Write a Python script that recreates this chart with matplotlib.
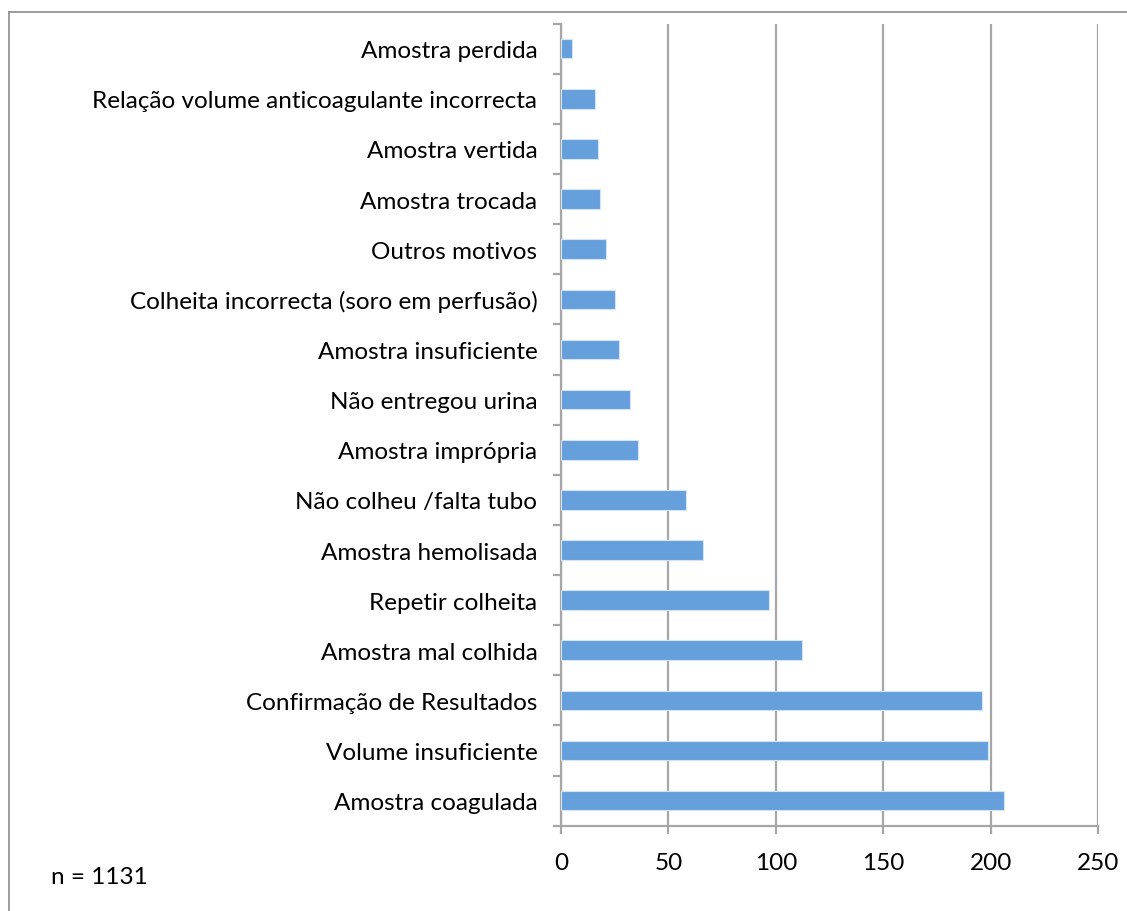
import matplotlib.pyplot as plt
from matplotlib.lines import Line2D

# Motivos de rejeição de amostras (de baixo para cima, como no gráfico)
categories = [
    "Amostra coagulada",
    "Volume insuficiente",
    "Confirmação de Resultados",
    "Amostra mal colhida",
    "Repetir colheita",
    "Amostra hemolisada",
    "Não colheu /falta tubo",
    "Amostra imprópria",
    "Não entregou urina",
    "Amostra insuficiente",
    "Colheita incorrecta (soro em perfusão)",
    "Outros motivos",
    "Amostra trocada",
    "Amostra vertida",
    "Relação volume anticoagulante incorrecta",
    "Amostra perdida",
]
counts = [206, 199, 196, 112, 97, 66, 58, 36, 32, 27, 25, 21, 18, 17, 16, 5]
x_ticks = [0, 50, 100, 150, 200, 250]
total_label = "n = 1131"

plt.rcParams["font.family"] = ["Lato", "DejaVu Sans"]
grey = "#a6a6a6"
fsize = 17.5

fig = plt.figure(figsize=(11.27, 9.12), dpi=100)
ax = fig.add_axes([0.4978, 0.0935, 0.4765, 0.8795])

y = range(len(categories))
ax.barh(y, counts, height=0.39, color="#659fdc", edgecolor="#d5e4f5", linewidth=0.8, zorder=3)

ax.set_xlim(0, 250)
ax.set_ylim(-0.5, len(categories) - 0.5)
ax.set_xticks(x_ticks)
ax.set_xticklabels([str(v) for v in x_ticks])
ax.set_yticks(list(y))
ax.set_yticklabels(categories)
ax.set_yticks([i - 0.5 for i in range(len(categories) + 1)], minor=True)

ax.grid(axis="x", color=grey, linewidth=1.6, zorder=0)
for side in ["top", "right"]:
    ax.spines[side].set_visible(False)
for side in ["left", "bottom"]:
    ax.spines[side].set_color(grey)
    ax.spines[side].set_linewidth(1.6)

ax.tick_params(axis="y", which="major", length=0, pad=17, labelsize=fsize, colors="black")
ax.tick_params(axis="y", which="minor", length=6, width=1.6, color=grey)
ax.tick_params(axis="x", length=6, width=1.6, color=grey, pad=13, labelsize=fsize)

fig.text(0.045, 0.038, total_label, fontsize=fsize, va="center", ha="left")

# moldura do gráfico (só o topo e a esquerda ficam visíveis)
fig.add_artist(Line2D([0.008, 1.0], [0.9855, 0.9855], transform=fig.transFigure, color="#8c8c8c", linewidth=1.2))
fig.add_artist(Line2D([0.008, 0.008], [0.0, 0.9855], transform=fig.transFigure, color="#8c8c8c", linewidth=1.2))

fig.savefig("out.png", dpi=100)
plt.close(fig)
